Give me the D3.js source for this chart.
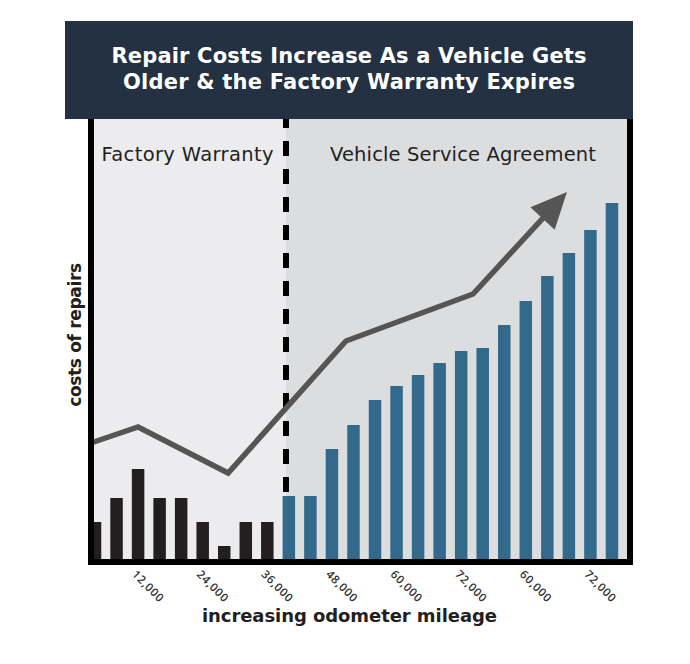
<!DOCTYPE html>
<html>
<head>
<meta charset="utf-8">
<script src="https://cdn.jsdelivr.net/npm/d3@7"></script>
<style>
  html, body { margin: 0; padding: 0; background: #ffffff; }
  svg { display: block; }
</style>
</head>
<body>
<svg id="chart" width="690" height="664"></svg>
<script>
// ---------- data ----------
const titleLines = ["Repair Costs Increase As a Vehicle Gets", "Older & the Factory Warranty Expires"];
const sectionLabels = ["Factory Warranty", "Vehicle Service Agreement"];
const xAxisTitle = "increasing odometer mileage";
const yAxisTitle = "costs of repairs";

// relative repair cost per period (index units)
const warrantyCosts = [37, 61, 90, 61, 61, 37, 13, 37, 37];
const serviceCosts = [63, 63, 110, 134, 159, 173, 184, 196, 208, 211, 234, 258, 283, 306, 329, 356];

// tick labels (as printed in the original) and the bar index they sit under
const tickLabels = ["12,000", "24,000", "36,000", "48,000", "60,000", "72,000", "60,000", "72,000"];
const tickIndex = [2, 5, 8, 11, 14, 17, 20, 23];

// trend arrow: position (in bar units) and cost value
const trendPos = [0.31, 2.5, 6.68, 12.15, 18.05, 22.41];
const trendVal = [116, 132, 86, 218, 265, 367];

// ---------- layout ----------
const svg = d3.select("#chart");
const plotLeft = 94, plotRight = 627, plotTop = 119, plotBottom = 559;
const barsLeft = 84.23, barsRight = 622.73;
const dividerX = 286;
const FONT = "'DejaVu Sans', 'Open Sans', sans-serif";
const TICKFONT = "'Open Sans', 'Noto Sans', sans-serif";

const allCosts = warrantyCosts.map((v, i) => ({ i, v, zone: "w" }))
  .concat(serviceCosts.map((v, j) => ({ i: warrantyCosts.length + j, v, zone: "s" })));

const x = d3.scaleBand()
  .domain(d3.range(allCosts.length))
  .range([barsLeft, barsRight])
  .paddingInner(0.42)
  .paddingOuter(0.21);

const xPos = d3.scaleLinear().domain([0, allCosts.length]).range([barsLeft, barsRight]);
const y = d3.scaleLinear().domain([0, 440]).range([plotBottom, plotTop]);

// fit text to a target width: scale the size, then make up the rest with letter-spacing
function fitText(sel, target, minSize, maxSize) {
  const fs = parseFloat(sel.attr("font-size"));
  let w = sel.node().getComputedTextLength();
  let nfs = Math.max(minSize, Math.min(maxSize, fs * target / w));
  sel.attr("font-size", nfs.toFixed(2));
  w = sel.node().getComputedTextLength();
  const n = sel.text().length;
  const ls = (target - w) / Math.max(1, n - 1);
  sel.attr("letter-spacing", ls.toFixed(3));
  if (sel.attr("text-anchor") === "middle" && sel.attr("x") != null) {
    sel.attr("x", +sel.attr("x") + ls / 2);
  }
}

// title box
svg.append("rect").attr("x", 65).attr("y", 21).attr("width", 568).attr("height", 98).attr("fill", "#233142");
const titleBase = [63, 89];
const titleW = [475, 452];
titleLines.forEach((t, k) => {
  const s = svg.append("text")
    .attr("x", 349).attr("y", titleBase[k])
    .attr("text-anchor", "middle")
    .attr("font-family", FONT)
    .attr("font-weight", 700)
    .attr("font-size", 20)
    .attr("fill", "#ffffff")
    .text(t);
  fitText(s, titleW[k], 19, 21);
});

// panel backgrounds
svg.append("rect").attr("x", plotLeft).attr("y", plotTop).attr("width", dividerX - plotLeft).attr("height", plotBottom - plotTop).attr("fill", "#ececee");
svg.append("rect").attr("x", dividerX).attr("y", plotTop).attr("width", plotRight - dividerX).attr("height", plotBottom - plotTop).attr("fill", "#dcdddf");

// section labels
const secX = [187.5, 463], secW = [172, 266];
sectionLabels.forEach((t, k) => {
  const s = svg.append("text")
    .attr("x", secX[k]).attr("y", 161)
    .attr("text-anchor", "middle")
    .attr("font-family", FONT)
    .attr("font-weight", 400)
    .attr("font-size", 19)
    .attr("fill", "#231f20")
    .text(t);
  fitText(s, secW[k], 18, 19.5);
});

// dashed divider
svg.append("line")
  .attr("x1", dividerX).attr("x2", dividerX)
  .attr("y1", plotTop).attr("y2", plotBottom)
  .attr("stroke", "#000000").attr("stroke-width", 6)
  .attr("stroke-dasharray", "15,13").attr("stroke-dashoffset", 6);

// bars
svg.append("g").selectAll("rect").data(allCosts).join("rect")
  .attr("x", d => x(d.i))
  .attr("width", x.bandwidth())
  .attr("y", d => y(d.v))
  .attr("height", d => y(0) - y(d.v))
  .attr("fill", d => d.zone === "w" ? "#231f20" : "#336a8c");

// trend line with arrow
const pts = trendPos.map((p, k) => [xPos(p), y(trendVal[k])]);
const tip = pts[pts.length - 1], prev = pts[pts.length - 2];
const dx = tip[0] - prev[0], dy = tip[1] - prev[1];
const len = Math.hypot(dx, dy), ux = dx / len, uy = dy / len;
const headLen = 36, headHalf = 16.5;
const base = [tip[0] - ux * headLen, tip[1] - uy * headLen];
const linePts = pts.slice(0, -1).concat([[base[0] + ux * 4, base[1] + uy * 4]]);
svg.append("path")
  .attr("d", d3.line()(linePts))
  .attr("fill", "none").attr("stroke", "#555555").attr("stroke-width", 5.5)
  .attr("stroke-linejoin", "miter");
svg.append("path")
  .attr("d", d3.line()([tip, [base[0] - uy * headHalf, base[1] + ux * headHalf], [base[0] + uy * headHalf, base[1] - ux * headHalf]]) + "Z")
  .attr("fill", "#555555");

// frame (left, bottom, right)
svg.append("rect").attr("x", 88).attr("y", plotTop).attr("width", 6).attr("height", plotBottom - plotTop + 6).attr("fill", "#000");
svg.append("rect").attr("x", 627).attr("y", plotTop).attr("width", 6).attr("height", plotBottom - plotTop + 6).attr("fill", "#000");
svg.append("rect").attr("x", 88).attr("y", plotBottom).attr("width", 545).attr("height", 6).attr("fill", "#000");

// tick labels
svg.append("g").selectAll("text").data(tickLabels).join("text")
  .attr("transform", (d, k) => `translate(${x(tickIndex[k]) - 0.5},575) rotate(45)`)
  .attr("font-family", TICKFONT)
  .attr("font-weight", 600)
  .attr("font-size", 11.5)
  .attr("letter-spacing", 0.6)
  .attr("fill", "#333333")
  .text(d => d);

// axis titles
const xt = svg.append("text")
  .attr("x", 349.5).attr("y", 622)
  .attr("text-anchor", "middle")
  .attr("font-family", FONT)
  .attr("font-weight", 700).attr("font-size", 19)
  .attr("fill", "#231f20")
  .text(xAxisTitle);
fitText(xt, 295, 18, 20);

const yt = svg.append("text")
  .attr("transform", "translate(81,335) rotate(-90)")
  .attr("text-anchor", "middle")
  .attr("font-family", FONT)
  .attr("font-weight", 700).attr("font-size", 19)
  .attr("fill", "#231f20")
  .text(yAxisTitle);
fitText(yt, 144, 17, 20);
</script>
</body>
</html>
